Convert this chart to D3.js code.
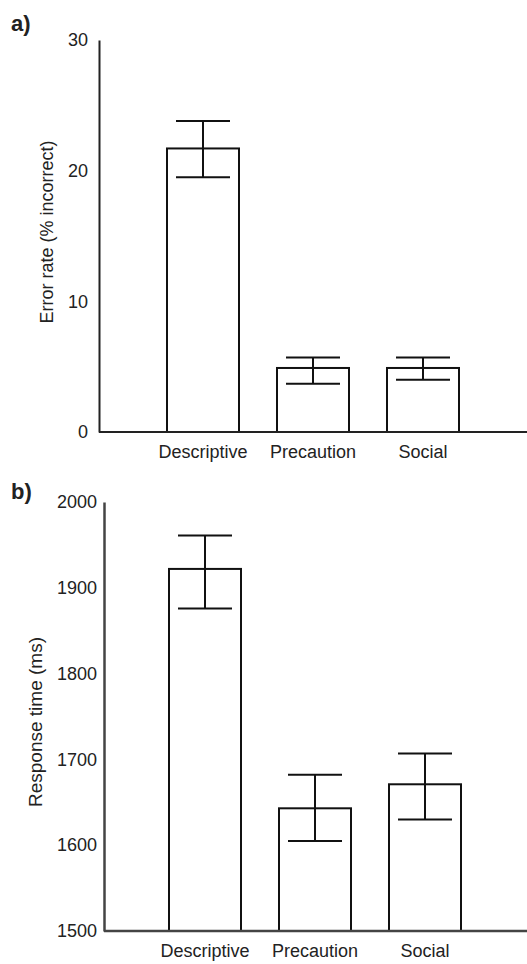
<!DOCTYPE html>
<html>
<head>
<meta charset="utf-8">
<script src="https://cdn.jsdelivr.net/npm/d3@7"></script>
<style>
  body { margin: 0; background: #fff; }
  text { font-family: "Liberation Sans", Arial, sans-serif; fill: #222; }
</style>
</head>
<body>
<div id="chart"></div>
<script>
var width = 527,
    height = 964;

var categories = ['Descriptive', 'Precaution', 'Social'];

// panel a: error rate (% incorrect)
var errorMean = [21.7, 4.9, 4.9];
var errorLow = [19.5, 3.7, 4.0];
var errorHigh = [23.8, 5.7, 5.7];
var errorTicks = [0, 10, 20, 30];

// panel b: response time (ms)
var rtMean = [1922, 1643, 1671];
var rtLow = [1876, 1605, 1630];
var rtHigh = [1961, 1682, 1707];
var rtTicks = [1500, 1600, 1700, 1800, 1900, 2000];

var svg = d3.select('#chart')
    .append('svg')
    .attr('width', width)
    .attr('height', height);

function drawPanel(opt) {
    var g = svg.append('g');

    var x = d3.scalePoint()
        .domain(categories)
        .range(opt.xRange);

    var y = d3.scaleLinear()
        .domain(opt.domain)
        .range([opt.bottom, opt.top]);

    var rows = categories.map((c, i) => ({
        cat: c, mean: opt.mean[i], lo: opt.low[i], hi: opt.high[i]
    }));

    var barW = 72,
        capW = 54;

    // bars
    g.selectAll('rect')
        .data(rows)
        .enter()
        .append('rect')
        .attr('x', d => x(d.cat) - barW / 2)
        .attr('y', d => y(d.mean))
        .attr('width', barW)
        .attr('height', d => y(opt.domain[0]) - y(d.mean))
        .attr('fill', '#fff')
        .attr('stroke', '#111')
        .attr('stroke-width', 2);

    // error bars
    var err = g.selectAll('.err')
        .data(rows)
        .enter()
        .append('g')
        .attr('class', 'err')
        .attr('stroke', '#111')
        .attr('stroke-width', 2);

    err.append('line')
        .attr('x1', d => x(d.cat))
        .attr('x2', d => x(d.cat))
        .attr('y1', d => y(d.lo))
        .attr('y2', d => y(d.hi));
    err.append('line')
        .attr('x1', d => x(d.cat) - capW / 2)
        .attr('x2', d => x(d.cat) + capW / 2)
        .attr('y1', d => y(d.hi))
        .attr('y2', d => y(d.hi));
    err.append('line')
        .attr('x1', d => x(d.cat) - capW / 2)
        .attr('x2', d => x(d.cat) + capW / 2)
        .attr('y1', d => y(d.lo))
        .attr('y2', d => y(d.lo));

    // y axis
    var yAxis = g.append('g')
        .attr('transform', 'translate(' + opt.axisX + ',0)')
        .call(d3.axisLeft(y)
            .tickValues(opt.ticks)
            .tickFormat(d3.format('d'))
            .tickSize(0)
            .tickPadding(opt.tickPad));
    yAxis.select('.domain')
        .attr('stroke', opt.axisColor)
        .attr('stroke-width', opt.axisW);
    yAxis.selectAll('text')
        .attr('font-size', 18)
        .attr('fill', '#222');

    // x axis
    g.append('line')
        .attr('x1', opt.axisX)
        .attr('x2', width)
        .attr('y1', opt.bottom)
        .attr('y2', opt.bottom)
        .attr('stroke', opt.axisColor)
        .attr('stroke-width', opt.axisW);

    g.selectAll('.xlabel')
        .data(categories)
        .enter()
        .append('text')
        .attr('class', 'xlabel')
        .attr('x', d => x(d))
        .attr('y', opt.bottom + 26)
        .attr('text-anchor', 'middle')
        .attr('font-size', 18)
        .text(d => d);

    g.append('text')
        .attr('transform', 'translate(' + opt.titleX + ',' + opt.titleY + ')rotate(-90)')
        .attr('text-anchor', 'middle')
        .attr('dy', '0.35em')
        .attr('font-size', opt.titleSize)
        .text(opt.title);

    g.append('text')
        .attr('x', 11)
        .attr('y', opt.letterY)
        .attr('font-size', 22)
        .attr('font-weight', 'bold')
        .attr('fill', '#111')
        .text(opt.letter);
}

drawPanel({
    letter: 'a)', letterY: 31,
    mean: errorMean, low: errorLow, high: errorHigh, ticks: errorTicks,
    domain: [0, 30], top: 40, bottom: 432,
    xRange: [203, 423], axisX: 99, tickPad: 11,
    axisColor: '#222', axisW: 2,
    title: 'Error rate (% incorrect)', titleX: 47, titleY: 232, titleSize: 18
});

drawPanel({
    letter: 'b)', letterY: 499,
    mean: rtMean, low: rtLow, high: rtHigh, ticks: rtTicks,
    domain: [1500, 2000], top: 502, bottom: 931,
    xRange: [205, 425], axisX: 104, tickPad: 7,
    axisColor: '#444', axisW: 2.5,
    title: 'Response time (ms)', titleX: 35, titleY: 722, titleSize: 19
});
</script>
</body>
</html>
